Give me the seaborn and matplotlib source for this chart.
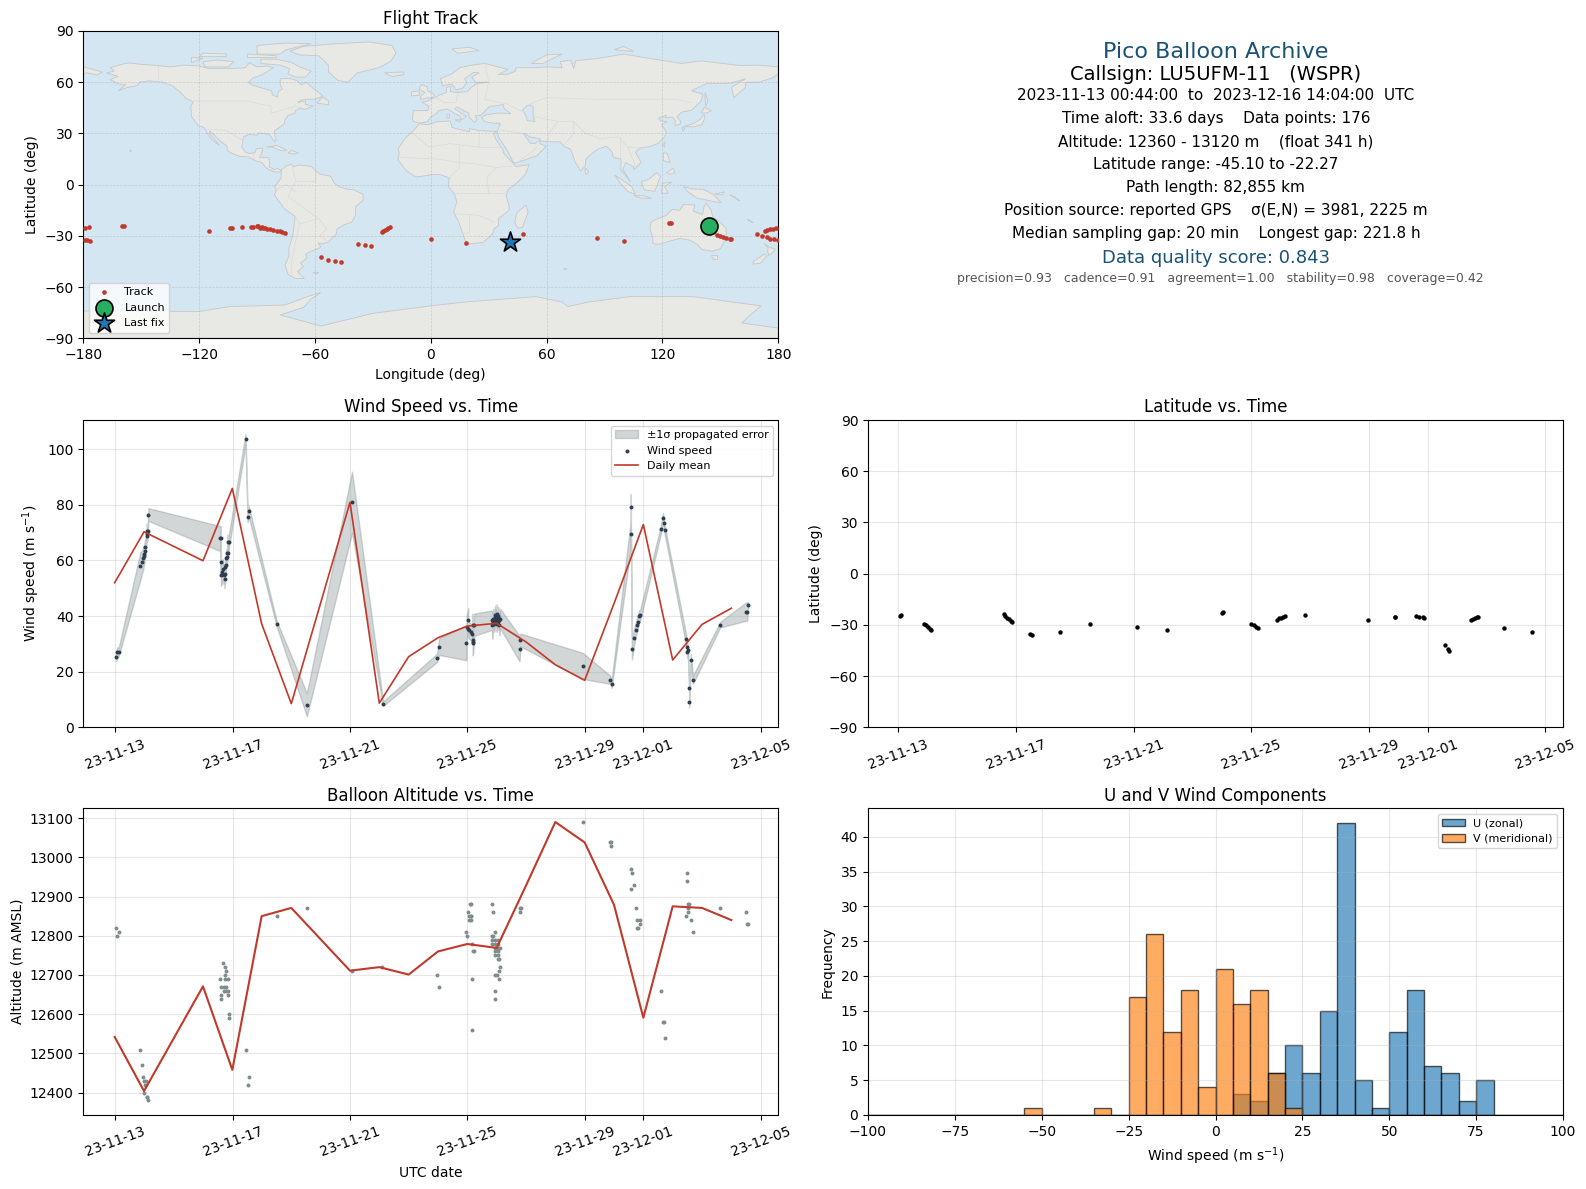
import matplotlib
matplotlib.use("Agg")
import matplotlib.pyplot as plt
import matplotlib.dates as mdates
import seaborn as sns
import pandas as pd

# Days are counted from 2023-11-13 00:00 UTC
wind_days = [0.03, 0.07, 0.11, 0.855, 0.92, 0.957, 0.97, 0.99, 1.0, 1.03, 1.07, 1.07, 1.09, 1.105, 1.13,
             3.57, 3.59, 3.6, 3.6, 3.64, 3.67, 3.69, 3.73, 3.73, 3.75, 3.77, 3.78, 3.81, 3.81, 3.83, 3.84, 3.87,
             4.44, 4.51, 4.55, 5.5, 6.53, 8.07, 9.13, 10.97, 11.04, 11.97, 11.98, 12.03, 12.03, 12.07, 12.11,
             12.16, 12.18, 12.18, 12.18, 12.2, 12.24, 12.83, 12.85, 12.87, 12.89, 12.89, 12.91, 12.93, 12.95, 12.95, 12.97,
             12.98, 13.0, 13.0, 13.02, 13.04, 13.05, 13.06, 13.06, 13.08, 13.09, 13.12, 13.78, 13.81, 15.93, 16.87, 16.92,
             17.57, 17.57, 17.61, 17.68, 17.74, 17.78, 17.81, 17.85, 17.89, 18.6, 18.67, 18.7, 18.73,
             19.45, 19.5, 19.5, 19.52, 19.56, 19.56, 19.62, 19.69, 20.62, 21.5, 21.54, 21.57]
wind_speed = [25.4, 26.9, 26.9, 58.0, 59.6, 60.9, 61.7, 62.3, 63.5, 65.0, 68.7, 70.7, 69.4, 70.7, 76.5,
              67.9, 59.6, 67.9, 54.9, 55.9, 56.9, 54.9, 55.3, 53.5, 57.7, 58.5, 60.7, 61.3, 62.5, 66.8, 62.5, 66.8,
              103.5, 75.8, 77.6, 37.3, 8.1, 80.9, 8.5, 25.0, 29.0, 30.4, 36.1, 38.7, 35.5, 34.9, 34.3,
              33.7, 36.9, 31.3, 30.2, 30.7, 36.9, 38.5, 36.7, 37.9, 39.1, 38.5, 37.3, 39.7, 40.3, 37.9, 39.7,
              39.1, 40.7, 37.3, 38.3, 38.8, 40.2, 39.7, 37.9, 38.6, 36.7, 39.1, 28.3, 31.4, 22.1, 17.1, 15.7,
              69.4, 79.1, 28.3, 32.2, 35.1, 36.7, 37.7, 40.0, 40.3, 71.2, 75.1, 73.3, 70.8,
              31.9, 28.7, 26.9, 27.7, 14.2, 9.2, 24.3, 17.1, 36.9, 41.6, 41.6, 44.1]
wind_sigma = [1.5, 2.0, 1.5, 5.0, 4.0, 4.0, 3.5, 3.5, 3.0, 3.0, 2.5, 2.5, 2.5, 2.5, 2.3,
              4.5, 4.0, 4.5, 4.0, 4.0, 3.5, 3.5, 3.5, 3.5, 3.0, 3.0, 3.0, 3.0, 2.5, 2.5, 2.5, 2.5,
              2.0, 2.0, 2.0, 1.0, 4.2, 11.0, 0.8, 1.5, 3.0, 6.3, 4.0, 4.2, 3.5, 3.0, 3.0,
              3.0, 4.0, 4.3, 4.3, 4.3, 4.0, 3.5, 5.0, 3.0, 3.5, 3.0, 3.0, 3.0, 3.5, 3.0, 3.0,
              3.0, 3.5, 3.0, 3.0, 3.0, 3.0, 3.5, 3.0, 3.0, 3.5, 3.5, 4.6, 2.3, 4.7, 1.5, 1.5,
              4.7, 4.7, 4.0, 3.0, 2.5, 2.5, 2.0, 2.0, 2.0, 1.5, 2.0, 2.0, 1.5,
              2.0, 2.0, 2.0, 2.0, 2.0, 2.0, 2.0, 1.5, 1.0, 3.3, 3.3, 1.0]

wind_mean_days = [-0.02, 0.98, 2.99, 3.99, 4.99, 6.0, 8.0, 9.0, 10.0, 11.0, 12.0, 13.0, 14.0, 15.0, 16.0, 17.0, 18.0, 19.0, 20.0, 21.0]
wind_mean = [52.0, 70.3, 59.9, 85.9, 37.2, 8.5, 80.9, 8.7, 25.4, 32.2, 36.4, 37.4, 30.7, 22.5, 16.9, 44.5, 72.9, 24.2, 37.0, 42.8]

alt_days = [0.03, 0.11, 0.07, 0.855, 0.92, 0.957, 0.99, 1.06, 1.0, 0.99, 1.07, 1.09, 1.13,
            3.67, 3.73, 3.76, 3.75, 3.56, 3.73, 3.83, 3.62, 3.69, 3.78, 3.69, 3.77, 3.83, 3.59, 3.83, 3.59, 3.86, 3.86,
            4.44, 4.55, 4.51, 5.5, 6.53, 8.07, 9.1, 10.97, 11.04,
            11.97, 11.99, 12.03, 12.09, 12.11, 12.07, 12.11, 12.14, 12.07, 12.14, 12.17, 12.2, 12.24, 12.17, 12.17,
            12.85, 12.89, 12.96, 12.85, 12.89, 12.85, 12.96, 13.03, 12.85, 12.96, 13.06, 12.96, 13.06, 13.13,
            12.93, 13.03, 12.93, 13.03, 13.06, 13.09, 13.13, 13.09, 12.96, 13.0, 13.09, 12.96, 12.96,
            13.79, 13.82, 13.81, 15.93, 16.86, 16.91, 16.89, 17.57, 17.61, 17.68, 17.57, 17.74, 17.78, 17.89, 17.89,
            17.78, 17.81, 18.6, 18.67, 18.7, 18.73, 19.49, 19.49, 19.52, 19.52, 19.55, 19.52, 19.45, 19.62, 19.69,
            20.62, 21.5, 21.54, 21.57]
alt_vals = [12820, 12810, 12800, 12510, 12470, 12440, 12430, 12430, 12420, 12400, 12390, 12390, 12380,
            12730, 12720, 12710, 12700, 12690, 12690, 12690, 12670, 12670, 12670, 12660, 12660, 12660, 12650, 12650, 12640, 12600, 12590,
            12510, 12440, 12420, 12850, 12870, 12710, 12720, 12700, 12670,
            12810, 12800, 12860, 12880, 12880, 12850, 12850, 12850, 12840, 12840, 12780, 12760, 12760, 12690, 12560,
            12880, 12860, 12810, 12800, 12800, 12790, 12790, 12790, 12780, 12780, 12780, 12770, 12770, 12770,
            12760, 12760, 12750, 12750, 12740, 12740, 12720, 12710, 12700, 12700, 12690, 12660, 12640,
            12870, 12870, 12860, 13090, 13040, 13040, 13030, 12970, 12960, 12930, 12920, 12870, 12840, 12840, 12830,
            12820, 12820, 12660, 12580, 12580, 12540, 12960, 12940, 12880, 12870, 12880, 12860, 12850, 12840, 12810,
            12870, 12860, 12830, 12830]

alt_mean_days = [-0.02, 0.98, 2.99, 3.99, 4.99, 6.0, 8.0, 9.0, 10.0, 11.0, 12.0, 13.0, 14.0, 15.0, 16.0, 17.0, 18.0, 19.0, 20.0, 21.0]
alt_mean = [12542, 12404, 12671, 12458, 12850, 12871, 12711, 12720, 12701, 12760, 12779, 12769, 12928, 13090, 13038, 12879, 12591, 12875, 12871, 12840]

lat_days = [0.06, 0.1, 0.88, 0.94, 1.0, 1.06, 1.12, 3.58, 3.64, 3.7, 3.76, 3.82, 3.86, 4.48, 4.55, 5.51, 6.53, 8.1, 9.12,
            11.0, 11.05, 12.0, 12.08, 12.16, 12.23, 12.87, 12.93, 13.0, 13.07, 13.16, 13.82, 15.96, 16.9, 16.9,
            17.6, 17.71, 17.83, 17.89, 18.6, 18.7, 18.74, 19.48, 19.54, 19.6, 19.66, 19.72, 20.61, 21.55]
lat_vals = [-24.7, -24.1, -29.2, -30.3, -31.5, -32.3, -33.1, -23.9, -24.9, -25.8, -26.6, -27.8, -28.6, -35.2, -35.8, -34.1, -29.4, -31.1, -32.9,
            -22.9, -22.3, -29.4, -30.3, -31.1, -31.9, -27.0, -26.2, -25.8, -25.4, -25.0, -24.1, -27.0, -25.6, -25.2,
            -24.7, -25.2, -25.4, -25.8, -41.7, -44.0, -45.1, -27.4, -26.6, -26.0, -25.6, -25.2, -31.7, -34.1]

track_lon = [-179, -177, -179, -178, -176.4, -160, -159, -114.7, -104, -103, -97.6, -93, -92, -89.3, -90.2,
             -88.5, -87.5, -86.7, -85.8, -85, -83.3, -81.6, -79.8, -78, -76.9, -75.7, -56.7, -53, -49.4, -46.3, -37.5, -33.9, -30.8,
             -25.4, -24.6, -23.7, -22.8, -22, -21.3, 0, 18, 48, 86, 100, 123.4, 124.4,
             148, 149.7, 151.4, 153, 154.8, 155.7, 169, 171.6, 174, 175.6, 177.8, 180, 173, 174, 175.6, 177.3, 179]
track_lat = [-25.5, -25, -32.3, -32.5, -33.1, -24.5, -24, -27.3, -25.5, -25.5, -25, -25, -25, -24, -24.5,
             -25.5, -25, -25.5, -25.2, -25.7, -25.9, -26.3, -26.9, -27.4, -27.8, -28.4, -42.1, -44.3, -44.9, -45.1, -34.9, -35.5, -36.1,
             -27.8, -27, -26.5, -25.9, -25.1, -24.7, -32, -34.3, -29, -31.4, -33.1, -22.6, -22.6,
             -29.4, -30.2, -30.8, -31.2, -31.6, -31.6, -29, -30.2, -30.8, -31.6, -32, -32.5, -27.3, -26.5, -26.1, -25.7, -25.3]
launch_lon, launch_lat = 144.0, -24.2
last_lon, last_lat = 40.8, -33.4

hist_edges = list(range(-100, 105, 5))
u_bins = [5, 10, 15, 20, 25, 30, 35, 40, 45, 50, 55, 60, 65, 70, 75]
u_counts = [3, 2, 6, 10, 6, 15, 42, 5, 1, 12, 18, 7, 6, 2, 5]
v_bins = [-55, -35, -25, -20, -15, -10, -5, 0, 5, 10, 15, 20]
v_counts = [1, 1, 17, 26, 12, 18, 4, 21, 16, 18, 6, 1]

# Rough hand traced land outlines (lon, lat)
north_america = [(-168,65.5),(-164,66.5),(-166,68.5),(-160,70.5),(-156.5,71.3),(-150,70.5),(-141,69.7),(-135,69),(-128,70),(-120,69.5),(-115,68),(-108,68),(-102,68),(-96,68.5),(-94,71.5),(-90,69),(-85,69.5),(-81.5,68.5),(-85,66),(-87,64.5),(-92,62.5),(-94.5,60),(-93,58.5),(-88,56.8),(-82.5,55),(-82,52.5),(-79.5,51.3),(-79,54.5),(-77,56),(-78,58.5),(-78,62),(-73,62.2),(-69.5,61),(-67,58.5),(-64.5,60),(-61,56.5),(-57,53),(-56,51.8),(-60,50),(-66,50),(-69,48.2),(-65,49),(-65,47),(-61,46),(-64,44.5),(-66,44),(-67,45),(-70,43.5),(-70.5,41.8),(-74,40.5),(-75.5,38),(-76,35.5),(-78,33.8),(-81,31.5),(-81,29.5),(-80,26.5),(-80.8,25.1),(-82.5,27.5),(-83.5,29.5),(-85.5,29.7),(-89,30.3),(-90,29),(-94,29.5),(-97,28),(-97.5,25),(-97.8,22),(-96,19),(-94,18.2),(-91,18.7),(-90.5,21),(-87,21.5),(-87.7,18),(-88.7,15.8),(-84,15.8),(-83.3,12),(-83.8,10.5),(-81,8.8),(-79.5,9.5),(-77.5,8.5),(-78,7.5),(-80.5,7.3),(-83,8.3),(-85.5,10),(-87.5,13),(-91,14),(-94.5,16.2),(-99,16.6),(-103,18.3),(-105.5,20),(-105.5,22.5),(-109,25.5),(-112.5,29.5),(-114.5,31.5),(-114.8,30),(-112,26.5),(-109.5,23),(-112,25),(-114.5,27.8),(-116.5,31.5),(-117.5,33.5),(-120.5,34.5),(-122,37),(-124,40),(-124.3,46),(-123,48.5),(-127,50.8),(-130,54.5),(-134,58),(-139,60),(-146,60.8),(-151,60),(-152,58),(-157,57),(-162,55),(-158,58.5),(-162,59),(-166,61.5),(-162,63.5)]
greenland = [(-73,78.2),(-66,81),(-50,82.5),(-32,83.6),(-20,81.5),(-18,77),(-21,72),(-27,68.5),(-38,65.5),(-43,60),(-48,61),(-53,66),(-53,70),(-58,75.5),(-68,76)]
south_america = [(-77.5,8.5),(-75,11),(-72,12),(-71.5,10.5),(-68,11.5),(-62,10.7),(-60,8.5),(-57,6),(-52,5),(-50,1),(-48,-1),(-44,-2.5),(-40,-3),(-35.2,-5.5),(-35,-9),(-39,-13),(-39,-18),(-41,-22),(-45,-23.5),(-48.5,-26),(-49,-29),(-53,-33.5),(-56.5,-34.8),(-58.3,-34),(-57,-36.8),(-62,-39),(-65,-41),(-64,-42.8),(-67.5,-46),(-66,-48),(-69,-51),(-65.5,-55),(-70,-55),(-74,-52.5),(-75.5,-47),(-73.5,-42),(-73.5,-37),(-71.5,-30),(-70.3,-18.5),(-76,-14),(-81,-6),(-80,-3),(-81,-1),(-79,1.5),(-77.5,4)]
africa = [(-5.8,35.8),(-2,35),(3,36.8),(10,37.3),(11,33.5),(15,32.3),(20,31),(20,32.8),(25,31.7),(32,31.2),(34.3,31.2),(32.5,29.8),(34,26),(37,21),(38,18),(43,12),(44,10.5),(51,11.8),(49,6),(45,1.5),(40,-3),(39,-6.5),(40.5,-12),(40.5,-15),(35,-20),(35,-24),(32.7,-26),(32,-29),(27,-33.8),(20,-34.8),(18.3,-34),(17,-30),(14.5,-22),(11.8,-16),(13.5,-10),(12,-5),(9,-1),(9.5,4),(5,5.8),(1,6),(-4,5),(-8,4.5),(-13,8.5),(-17,14.5),(-16.3,19),(-17,21),(-13,27.5),(-9.5,31)]
eurasia = [(-9,37),(-9.5,39),(-9,43.3),(-1.5,43.5),(-1,46),(-4.7,48.3),(-1.5,49),(2,51),(4.5,52.5),(8,54),(8.2,57),(10.5,57.5),(10,54.5),(14,54),(19,54.5),(21,57),(24,59.3),(30,60),(23,60),(21.3,63),(25,65.5),(22,65.7),(17.5,62),(18.5,59.7),(16.5,56.5),(13,55.5),(11,59),(6,58),(5,62),(11,65),(15,68.5),(21,70),(28,71),(40,67.5),(35,64.5),(40,64.7),(44,66.5),(44,68.5),(54,68.5),(60,69),(68,68.5),(67,72),(72.5,73),(74,68),(75,72.5),(87,74),(100,76.5),(113,74),(130,71),(140,72.5),(160,69.8),(170,70),(180,69),(180,65),(177,62.5),(170,60),(163,60),(163,57),(161,55),(157,51),(155.8,57),(163,62),(155,59.3),(143,59.3),(135,55),(141,53),(140,49),(135,43.5),(130,42.5),(127.5,39.8),(129.5,37),(129,35.3),(126.3,34.7),(126.7,37.5),(125,39.7),(121.5,39),(122,40.5),(118,39),(119,37.3),(122.5,37),(119.5,35),(122,31),(121,28),(118,24.3),(113.5,22.3),(108.5,21.5),(106,19),(109,13),(106,9.5),(105,8.8),(105,10.5),(101,13),(99.5,9),(103.5,1.5),(100.5,6),(98.5,8.5),(98.5,15),(94.5,16),(94,19),(91,22.5),(87,21),(85,19.5),(80.3,15),(80,11),(77.5,8),(74.5,14),(72.8,20),(72,21),(69,22.5),(67,25),(61,25.2),(57,25.5),(56.5,27),(51.5,27.8),(48.5,30),(48,29.5),(50.5,26),(51.5,24.3),(54,24),(56.3,26),(56.5,24),(59.8,22.5),(55,17),(45,13),(43,12.7),(39,21),(35,28),(34.5,31.5),(36,36),(32,36),(27.5,37),(26.5,39.5),(29,41),(35,42),(41.5,41.5),(38,44.5),(37.5,47),(33,46),(30.5,46),(28,43),(26,40.7),(23,40.5),(24,38),(22.7,36.5),(20,39.5),(19.5,42),(13.7,45.5),(12.3,44.5),(16,41.5),(18.4,40),(16.5,38.5),(15.7,38),(15.5,40),(12,42),(8.8,44.3),(4,43.4),(3,41.7),(0,39.5),(-2,36.8),(-5.5,36)]
chukotka_west = [(-180,69),(-175,67.5),(-170,66),(-173,64.3),(-178,65.5),(-180,65)]
australia = [(114,-22),(113.5,-26),(115,-31),(115,-34.5),(118,-35),(124,-33),(129,-31.5),(134,-32.5),(138,-35),(140.5,-38),(146,-39),(150,-37.5),(153,-31),(153,-25.5),(149,-21),(146,-19),(145.3,-15),(142.6,-10.8),(141.5,-13),(140.8,-17.5),(136,-15.5),(136.8,-12),(131,-11.5),(129,-15),(125,-14.5),(122,-18),(116,-20.7)]
antarctica = [(-180,-74),(-120,-74.3),(-104,-71.4),(-75.5,-70.5),(-64,-65.6),(-57,-63.2),(-62,-67),(-66,-72),(-78,-76.3),(-57,-82.8),(-30,-75.4),(0,-71),(18,-68.7),(54.5,-65.6),(68,-68.7),(71,-71.4),(82,-68.7),(103,-65.6),(136,-65.6),(171,-71),(161,-81),(180,-84),(180,-90),(-180,-90)]
islands = [
    [(-80,73.5),(-72,71.5),(-68,69),(-62,66.5),(-65,63),(-70,63),(-74,65),(-73,68),(-78,70),(-88,71),(-88,73.5)],
    [(-117,69),(-105,69),(-102,72),(-110,73),(-118,72)],
    [(-90,76.5),(-78,76.5),(-75,79),(-62,82.5),(-75,83),(-90,81.5)],
    [(-124,71.5),(-118,74),(-124,74.5)],
    [(-95,74.5),(-80,74.5),(-80,75.5),(-95,76.5)],
    [(-120,75),(-106,75),(-106,76.5),(-118,77)],
    [(-59,47.7),(-53,46.8),(-53,49),(-56,51.5)],
    [(-85,22),(-80,23),(-74.5,20.2),(-78,20),(-82,22)],
    [(-74,18.5),(-72,20),(-68.5,18.5),(-71,18)],
    [(-156,19.5),(-155,19.7),(-155.5,20.2)],
    [(49.3,-12),(50.4,-16),(47.5,-25),(45,-25.5),(43.5,-22),(44.5,-16.5)],
    [(145,-41),(148,-41),(148,-43.5),(146,-43.5)],
    [(172.7,-34.5),(175.5,-36.8),(178.5,-37.7),(176.8,-40),(175,-41.5),(174.5,-39),(174.7,-37)],
    [(172.7,-40.7),(174.3,-41.7),(170.7,-46),(167,-46.5),(167,-45)],
    [(131,-1),(135,-2.5),(141,-2.7),(146,-5.5),(150.5,-10.5),(147,-10),(143,-9),(138,-8),(133,-4)],
    [(109,1.5),(113,3.2),(117,7),(119,5),(117.5,0.5),(116,-4),(110.5,-3)],
    [(95.3,5.6),(100,2),(104,-1),(106,-5.8),(102,-4),(98,1)],
    [(105.2,-6.5),(110,-6.5),(114.5,-8),(109,-8)],
    [(119.5,-5),(120,0.8),(125,1.5),(121,-1),(123,-5)],
    [(120.5,18.5),(122.3,18.5),(124,13),(120.5,14)],
    [(122,7),(125.5,9.7),(126.5,7),(124,6)],
    [(130.9,34),(136,35.7),(139.8,38.5),(141.5,41.3),(142,39),(140.5,35.2),(136,33.8)],
    [(130,33.5),(131.8,33),(130.7,31.2)],
    [(140,42),(141.8,45.4),(145.3,43.3),(143,42)],
    [(142,54),(143.5,49),(142.5,46),(142,50)],
    [(120,23),(121.5,25.2),(121,22)],
    [(80,9.7),(81.8,7.5),(80.5,6),(79.8,8)],
    [(-5.5,50),(1.5,51.3),(1.7,52.8),(-1.5,55),(-2,57.5),(-5,58.6),(-6,56),(-3,54),(-5,52)],
    [(-10,52),(-6,52.3),(-6,55),(-10,54.3)],
    [(-24,65.5),(-14,66),(-14,64.5),(-20,63.3)],
    [(14,77),(25,78.5),(20,80.5),(11,79.5)],
    [(52,71),(58,71),(68,76.5),(60,76)],
    [(95,79),(105,78),(100,81)],
    [(12.5,38),(15.5,38),(15,36.8)],
    [(8.3,41),(9.7,41),(9.5,39),(8.5,39)],
    [(-61,-51.5),(-58,-51.5),(-59,-52.3)],
    [(69,-49),(70.5,-49.5),(69,-49.8)],
    [(164,-20.2),(167,-22.3),(166,-22)],
    [(155,-6),(157,-7),(160,-9.5),(158,-8)],
    [(147,-5.5),(152,-4.2),(151,-6)],
]
# Caspian sits inside the land polygon
caspian = [(50,46.5),(53,46),(53,40),(54,37),(50,37.5),(49,41),(47.5,43.5)]
# A few country borders, faint in the reference
borders = [
    [(-123,49),(-95,49),(-83,46),(-82.5,42),(-76,44),(-70,46),(-67,45)],
    [(-141,69.7),(-141,60.3),(-134,58)],
    [(-117,32.5),(-106,31.8),(-97.5,26)],
    [(-92,18),(-91,14)],
    [(-72,12),(-70,2),(-74,-7),(-69,-11),(-58,-20),(-54,-26),(-57.5,-30),(-53,-33.5)],
    [(-60,8.5),(-60,2),(-70,2)],
    [(-70.3,-18.5),(-68,-23),(-70,-33),(-72,-45),(-72,-52)],
    [(-80,-3),(-75,0),(-70,-4)],
    [(-68,-23),(-58,-20)],
    [(-9,30),(-1,22),(10,24),(25,22),(25,31.7)],
    [(-16.3,16),(3,15),(15,13),(24,12),(34,10),(42,11)],
    [(25,22),(37,22)],
    [(9.5,4),(15,10),(15,23)],
    [(12,-5),(30,-5),(39,-5)],
    [(30,-5),(29,4),(34,10)],
    [(13,-17),(25,-18),(33,-22)],
    [(20,-18),(20,-28),(17,-29)],
    [(28,71),(30,60),(28,50),(40,47),(47,43)],
    [(14,54),(13,48),(7,48),(3,51)],
    [(24,59),(24,42)],
    [(50,46.5),(60,51),(85,50),(98,50),(118,50),(127,50),(135,48)],
    [(53,40),(66,37),(74,37),(80,30),(88,27),(97,28),(102,22),(108,21.5)],
    [(66,37),(61,30),(61,25.2)],
    [(74,37),(74,30),(69,23)],
    [(36,32),(48,30)],
    [(45,13),(52,19),(55,22)],
    [(98,28),(98,16)],
    [(102,22),(105,14),(106,10)],
]

info_lines = [
    ("Pico Balloon Archive", 52.2, 16, "#1a5276", 1216),
    ("Callsign: LU5UFM-11   (WSPR)", 74.6, 14, "black", 1216),
    ("2023-11-13 00:44:00  to  2023-12-16 14:04:00  UTC", 95.3, 11, "black", 1216),
    ("Time aloft: 33.6 days    Data points: 176", 118.3, 11, "black", 1216),
    ("Altitude: 12360 - 13120 m    (float 341 h)", 141.6, 11, "black", 1216),
    ("Latitude range: -45.10 to -22.27", 164.7, 11, "black", 1216),
    ("Path length: 82,855 km", 187.7, 11, "black", 1215.3),
    ("Position source: reported GPS    σ(E,N) = 3981, 2225 m", 210.6, 11, "black", 1216),
    ("Median sampling gap: 20 min    Longest gap: 221.8 h", 233.6, 11, "black", 1216),
    ("Data quality score: 0.843", 257.8, 13, "#1a5276", 1216),
    ("precision=0.93   cadence=0.91   agreement=1.00   stability=0.98   coverage=0.42", 278.3, 9, "#555555", 1220.3),
]

t0 = pd.Timestamp("2023-11-13")
W, H = 1586, 1189
RED = "#c0392b"


def to_time(days):
    return t0 + pd.to_timedelta(days, unit="D")


def make_axes(left, right, top, bottom):
    return fig.add_axes([left / W, 1 - bottom / H, (right - left) / W, (bottom - top) / H])


def style_time_axis(ax, start=-1.09, stop=22.6):
    ax.set_xlim(to_time(start), to_time(stop))
    ax.xaxis.set_major_locator(mdates.DayLocator(bymonthday=[1, 5, 9, 13, 17, 21, 25, 29]))
    ax.xaxis.set_major_formatter(mdates.DateFormatter("%y-%m-%d"))
    ax.tick_params(axis="x", rotation=20)
    ax.grid(True, color="#b0b0b0", alpha=0.3)
    ax.set_axisbelow(True)


fig = plt.figure(figsize=(W / 100, H / 100), dpi=100)

LEFT = (83.3, 778.3)
RIGHT = (868, 1563)
ROW2 = (420, 727.3)
ROW3 = (808.3, 1115)

# Flight track map
ax_map = make_axes(LEFT[0], LEFT[1], 31, 338.3)
ax_map.set_facecolor("#d4e6f1")
for outline in [north_america, greenland, south_america, africa, eurasia, chukotka_west, australia, antarctica] + islands:
    lons, lats = zip(*outline)
    ax_map.fill(lons, lats, facecolor="#e8e8e4", edgecolor="#c4c8ca", linewidth=0.6, zorder=1)
lons, lats = zip(*caspian)
ax_map.fill(lons, lats, facecolor="#d4e6f1", edgecolor="#c4c8ca", linewidth=0.6, zorder=1)
for border in borders:
    lons, lats = zip(*border)
    ax_map.plot(lons, lats, color="#d9dada", linewidth=0.5, zorder=1.5)
ax_map.grid(True, color="#888888", linestyle="--", linewidth=0.5, alpha=0.3, zorder=2)
sns.scatterplot(x=track_lon, y=track_lat, ax=ax_map, color=RED, s=11, linewidth=0, label="Track", zorder=3)
sns.scatterplot(x=[launch_lon], y=[launch_lat], ax=ax_map, color="#27ae60", s=150, edgecolor="black", linewidth=1.2, label="Launch", zorder=4)
sns.scatterplot(x=[last_lon], y=[last_lat], ax=ax_map, color="#1f77b4", marker="*", s=230, edgecolor="black", linewidth=1.2, label="Last fix", zorder=4)
ax_map.set_xlim(-180, 180)
ax_map.set_ylim(-90, 90)
ax_map.set_xticks(range(-180, 181, 60))
ax_map.set_yticks(range(-90, 91, 30))
ax_map.set_xlabel("Longitude (deg)")
ax_map.set_ylabel("Latitude (deg)")
ax_map.set_title("Flight Track", fontsize=12, pad=5.4)
ax_map.legend(loc="lower left", fontsize=8)

# Summary text block
for text, y_px, size, color, x_px in info_lines:
    fig.text(x_px / W, 1 - y_px / H, text, ha="center", va="center", fontsize=size, color=color)

# Wind speed
wind = pd.DataFrame({"t": to_time(pd.Series(wind_days)), "speed": wind_speed, "sigma": wind_sigma})
wind["low"] = wind["speed"] - wind["sigma"]
wind["high"] = wind["speed"] + wind["sigma"]
ax_wind = make_axes(LEFT[0], LEFT[1], ROW2[0], ROW2[1])
ax_wind.fill_between(wind["t"], wind["low"], wind["high"], color="#7f8c8d", alpha=0.35, label="±1σ propagated error")
sns.scatterplot(data=wind, x="t", y="speed", ax=ax_wind, color="#2c3e50", s=8, linewidth=0, label="Wind speed", zorder=3)
sns.lineplot(x=to_time(pd.Series(wind_mean_days)), y=wind_mean, ax=ax_wind, color=RED, linewidth=1.2, estimator=None, label="Daily mean", zorder=4)
style_time_axis(ax_wind)
ax_wind.set_ylim(0, 110.5)
ax_wind.set_xlabel("")
ax_wind.set_ylabel("Wind speed (m s$^{-1}$)")
ax_wind.set_title("Wind Speed vs. Time", fontsize=12)
ax_wind.legend(loc="upper right", fontsize=8)

# Latitude
ax_lat = make_axes(RIGHT[0], RIGHT[1], ROW2[0], ROW2[1])
sns.scatterplot(x=to_time(pd.Series(lat_days)), y=lat_vals, ax=ax_lat, color="black", s=10, linewidth=0, zorder=3)
style_time_axis(ax_lat, -1.035, 22.6)
ax_lat.set_ylim(-90, 90)
ax_lat.set_yticks(range(-90, 91, 30))
ax_lat.set_xlabel("")
ax_lat.set_ylabel("Latitude (deg)")
ax_lat.set_title("Latitude vs. Time", fontsize=12)

# Altitude
ax_alt = make_axes(LEFT[0], LEFT[1], ROW3[0], ROW3[1])
sns.scatterplot(x=to_time(pd.Series(alt_days)), y=alt_vals, ax=ax_alt, color="#7f8c8d", s=8, linewidth=0, zorder=3)
sns.lineplot(x=to_time(pd.Series(alt_mean_days)), y=alt_mean, ax=ax_alt, color=RED, linewidth=1.5, estimator=None, zorder=4)
style_time_axis(ax_alt)
ax_alt.set_ylim(12343, 13125)
ax_alt.set_xlabel("UTC date", labelpad=5)
ax_alt.set_ylabel("Altitude (m AMSL)")
ax_alt.set_title("Balloon Altitude vs. Time", fontsize=12, pad=5.4)

# U and V histogram
ax_hist = make_axes(RIGHT[0], RIGHT[1], ROW3[0], ROW3[1])
soft_edge = (0, 0, 0, 0.65)
sns.histplot(x=[b + 2.5 for b in u_bins], weights=u_counts, bins=hist_edges, ax=ax_hist, color="#1f77b4", alpha=0.65, edgecolor=soft_edge, label="U (zonal)")
sns.histplot(x=[b + 2.5 for b in v_bins], weights=v_counts, bins=hist_edges, ax=ax_hist, color="#ff7f0e", alpha=0.65, edgecolor=soft_edge, label="V (meridional)")
ax_hist.set_xlim(-100, 100)
ax_hist.set_ylim(0, 44.1)
ax_hist.grid(True, color="#b0b0b0", alpha=0.3)
ax_hist.set_xlabel("Wind speed (m s$^{-1}$)", labelpad=5)
ax_hist.set_ylabel("Frequency")
ax_hist.set_title("U and V Wind Components", fontsize=12, pad=5.4)
ax_hist.legend(loc="upper right", fontsize=8)

fig.savefig("out.png", dpi=100)
